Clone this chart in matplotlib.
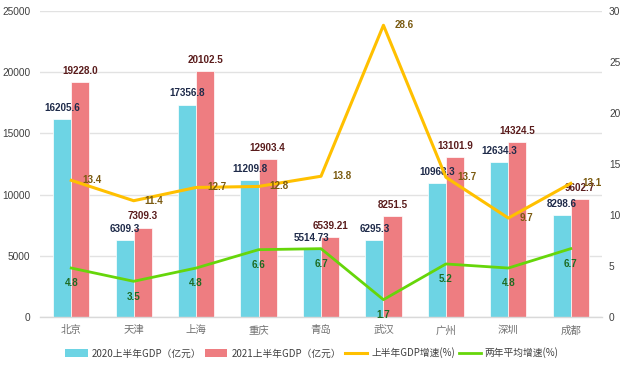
import matplotlib
matplotlib.use("Agg")
import matplotlib.pyplot as plt
import numpy as np
from matplotlib.patches import Patch
from matplotlib.lines import Line2D

cities = ["北京", "天津", "上海", "重庆", "青岛", "武汉", "广州", "深圳", "成都"]
gdp2020 = [16205.6, 6309.3, 17356.8, 11209.8, 5514.73, 6295.3, 10968.3, 12634.3, 8298.6]
gdp2021 = [19228.0, 7309.3, 20102.5, 12903.4, 6539.21, 8251.5, 13101.9, 14324.5, 9602.7]
lbl2020 = ["16205.6", "6309.3", "17356.8", "11209.8", "5514.73", "6295.3", "10968.3", "12634.3", "8298.6"]
lbl2021 = ["19228.0", "7309.3", "20102.5", "12903.4", "6539.21", "8251.5", "13101.9", "14324.5", "9602.7"]
growth = [13.4, 11.4, 12.7, 12.8, 13.8, 28.6, 13.7, 9.7, 13.1]
avg2y = [4.8, 3.5, 4.8, 6.6, 6.7, 1.7, 5.2, 4.8, 6.7]

left_ticks = [0, 5000, 10000, 15000, 20000, 25000]
right_ticks = [0, 5, 10, 15, 20, 25, 30]

series_names = ["2020上半年GDP（亿元）", "2021上半年GDP（亿元）", "上半年GDP增速(%)", "两年平均增速(%)"]

C_CYAN = "#6DD4E4"
C_RED = "#EE7D81"
C_YEL = "#FFC000"
C_GRN = "#66D60A"

NUM = ["Liberation Sans", "DejaVu Sans"]
CJK = ["Noto Sans CJK SC", "DejaVu Sans"]

fig = plt.figure(figsize=(6.29, 3.69), dpi=100)
ax = fig.add_axes([40 / 629, 1 - 317 / 369, 562 / 629, 306 / 369])
x = np.arange(len(cities))
w = 0.29

ax.bar(x - w / 2, gdp2020, w, color=C_CYAN, edgecolor="white", linewidth=0.5, zorder=2)
ax.bar(x + w / 2, gdp2021, w, color=C_RED, edgecolor="white", linewidth=0.5, zorder=2)
ax.set_xlim(-0.5, len(cities) - 0.5)
ax.set_ylim(0, 25000)
ax.set_yticks(left_ticks)
ax.set_yticklabels([str(t) for t in left_ticks], family=NUM, fontsize=7.3, color="#404040")
ax.set_xticks(x)
ax.set_xticklabels(cities, family=CJK, fontsize=7.5, color="#707070")
ax.tick_params(axis="both", length=0)
ax.tick_params(axis="x", pad=6)
ax.tick_params(axis="y", pad=7)
ax.grid(axis="y", color="#E2E2E2", linewidth=1)
ax.set_axisbelow(True)
for s in ["top", "left", "right"]:
    ax.spines[s].set_visible(False)
ax.spines["bottom"].set_color("#D9D9D9")
ax.spines["bottom"].set_linewidth(1)

LBL = 7.1
for i in range(len(cities)):
    ax.annotate(lbl2020[i], (x[i] - w / 2, gdp2020[i]), xytext=(0, 8), textcoords="offset points",
                ha="center", va="center", family=NUM, fontsize=LBL, fontweight="bold", color="#1F2B4A", zorder=5)
    ax.annotate(lbl2021[i], (x[i] + w / 2, gdp2021[i]), xytext=(0, 8), textcoords="offset points",
                ha="center", va="center", family=NUM, fontsize=LBL, fontweight="bold", color="#5A1C1C", zorder=5)

ax2 = ax.twinx()
ax2.set_ylim(0, 30)
ax2.set_yticks(right_ticks)
ax2.set_yticklabels([str(t) for t in right_ticks], family=NUM, fontsize=7.3, color="#404040")
ax2.tick_params(axis="y", length=0, pad=5)
for s in ["top", "left", "right", "bottom"]:
    ax2.spines[s].set_visible(False)

ax2.plot(x, growth, color=C_YEL, linewidth=2.2, zorder=3)
ax2.plot(x, avg2y, color=C_GRN, linewidth=2.0, zorder=3)
for i in range(len(cities)):
    ax2.annotate(f"{growth[i]}", (x[i], growth[i]), xytext=(8, 0), textcoords="offset points",
                 ha="left", va="center", family=NUM, fontsize=LBL, fontweight="bold", color="#7A5A10", zorder=6)
    ax2.annotate(f"{avg2y[i]}", (x[i], avg2y[i]), xytext=(0, -11), textcoords="offset points",
                 ha="center", va="center", family=NUM, fontsize=LBL, fontweight="bold", color="#1E6B22", zorder=6)

handles = [
    Patch(facecolor=C_CYAN, edgecolor="none"),
    Patch(facecolor=C_RED, edgecolor="none"),
    Line2D([0], [0], color=C_YEL, linewidth=2.2),
    Line2D([0], [0], color=C_GRN, linewidth=2.0),
]
leg = fig.legend(handles, series_names, loc="center", bbox_to_anchor=(312 / 629, 1 - 353 / 369),
                 ncol=4, frameon=False, prop={"family": CJK, "size": 7},
                 handlelength=2.3, handleheight=0.8, handletextpad=0.4, columnspacing=0.4)
for t in leg.get_texts():
    t.set_color("#404040")

fig.savefig("out.png", dpi=100)
